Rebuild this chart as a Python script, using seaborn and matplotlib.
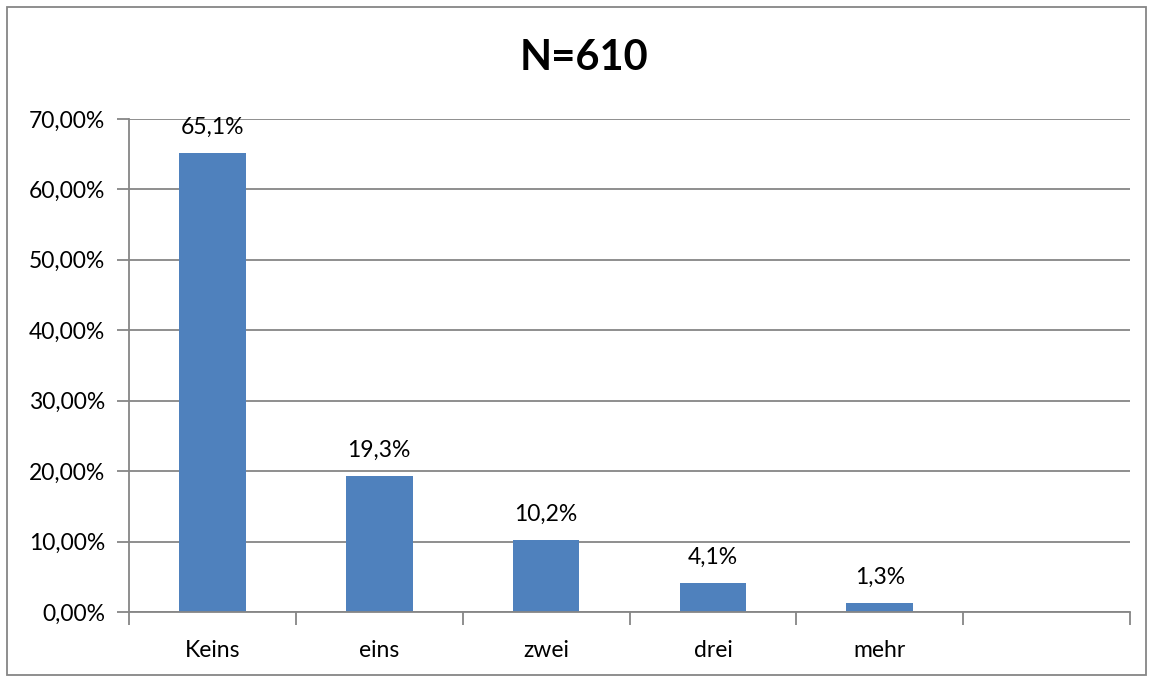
import matplotlib
matplotlib.use("Agg")
import matplotlib.pyplot as plt
import matplotlib.patches as mpatches
from matplotlib.ticker import FixedLocator, NullFormatter, FuncFormatter
import seaborn as sns
import pandas as pd

categories = ["Keins", "eins", "zwei", "drei", "mehr"]
shares = [65.1, 19.3, 10.2, 4.1, 1.3]
title = "N=610"
y_ticks = [0, 10, 20, 30, 40, 50, 60, 70]

sns.set_style("white")
plt.rcParams["font.family"] = ["Lato", "DejaVu Sans"]
plt.rcParams["text.color"] = "black"
plt.rcParams["xtick.color"] = "black"
plt.rcParams["ytick.color"] = "black"

grey = "#868686"
bar_color = "#4F81BD"
fs = 16.5

fig = plt.figure(figsize=(11.52, 6.81), dpi=100)
ax = fig.add_axes([0.1120, 0.1013, 0.8689, 0.7240])

df = pd.DataFrame({"cat": categories, "val": shares})
sns.barplot(data=df, x="cat", y="val", order=categories, color=bar_color,
            saturation=1, width=0.4, edgecolor="none", ax=ax)

n_slots = len(categories) + 1
ax.set_xlim(-0.5, n_slots - 0.5)
ax.set_ylim(0, 70)

# gridlines and y ticks
ax.yaxis.set_major_locator(FixedLocator(y_ticks))
ax.yaxis.set_major_formatter(FuncFormatter(lambda v, p: f"{v:.2f}".replace(".", ",") + "%"))
ax.grid(axis="y", color=grey, linewidth=1.3)
ax.set_axisbelow(True)

# category boundaries as tick marks, labels at slot centres
ax.xaxis.set_major_locator(FixedLocator([i - 0.5 for i in range(n_slots + 1)]))
ax.xaxis.set_major_formatter(NullFormatter())
ax.xaxis.set_minor_locator(FixedLocator(list(range(len(categories)))))
ax.set_xticklabels(categories, minor=True)
ax.tick_params(axis="x", which="major", bottom=True, length=9, width=1.3, color=grey, direction="out")
ax.tick_params(axis="x", which="minor", bottom=True, length=0, pad=20, labelsize=fs, labelcolor="black")
ax.tick_params(axis="y", left=True, length=9, width=1.3, color=grey, direction="out",
               labelsize=fs, labelcolor="black", pad=8)

for side in ["top", "right"]:
    ax.spines[side].set_visible(False)
for side in ["left", "bottom"]:
    ax.spines[side].set_color(grey)
    ax.spines[side].set_linewidth(1.3)

ax.set_xlabel("")
ax.set_ylabel("")

for container in ax.containers:
    ax.bar_label(container, labels=[f"{v:.1f}".replace(".", ",") + "%" for v in shares],
                 padding=11, fontsize=fs, color="black")

fig.text(0.507, 0.915, title, ha="center", va="center", fontsize=30, fontweight="bold",
         color="black")

# outer frame around the chart
fig.patches.append(mpatches.Rectangle((7 / 1152, 6 / 681), 1139 / 1152, 668 / 681,
                                      transform=fig.transFigure, fill=False,
                                      edgecolor=grey, linewidth=1.3))

fig.savefig("out.png", dpi=100)
